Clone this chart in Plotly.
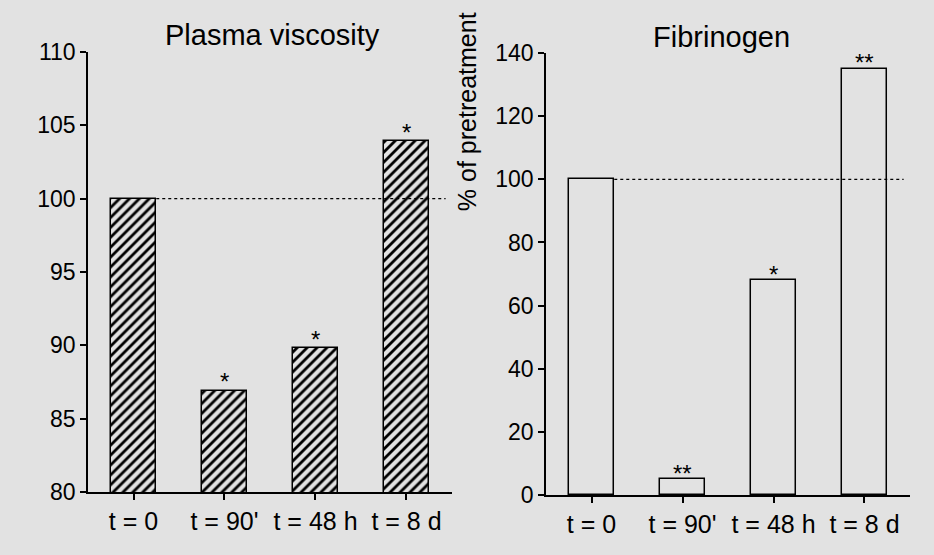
import plotly.graph_objects as go

categories = ["t = 0", "t = 90'", "t = 48 h", "t = 8 d"]
viscosity = [100, 86.9, 89.8, 103.9]
viscosity_sig = ["", "*", "*", "*"]
fibrinogen = [100, 5, 68, 135]
fibrinogen_sig = ["", "**", "*", "**"]
visc_ticks = [80, 85, 90, 95, 100, 105, 110]
fib_ticks = [0, 20, 40, 60, 80, 100, 120, 140]
baseline = 100

BG = "#e2e2e2"
FONT = "Liberation Sans, Arial, sans-serif"
x = list(range(len(categories)))

fig = go.Figure()
fig.add_trace(go.Bar(
    x=x, y=viscosity, width=0.5, xaxis="x", yaxis="y",
    marker=dict(color=BG, line=dict(color="black", width=1.5),
                pattern=dict(shape="/", fgcolor="black", bgcolor=BG, size=7,
                             solidity=0.4, fgopacity=1)),
    showlegend=False, hoverinfo="skip"))
fig.add_trace(go.Bar(
    x=x, y=fibrinogen, width=0.5, xaxis="x2", yaxis="y2",
    marker=dict(color="rgba(0,0,0,0)", line=dict(color="black", width=1.5)),
    showlegend=False, hoverinfo="skip"))

ann = []
for i, (v, s) in enumerate(zip(viscosity, viscosity_sig)):
    if s:
        ann.append(dict(x=i, y=v, xref="x", yref="y", text=s, showarrow=False,
                        yanchor="middle", yshift=9, font=dict(size=24, color="black", family=FONT)))
for i, (v, s) in enumerate(zip(fibrinogen, fibrinogen_sig)):
    if s:
        ann.append(dict(x=i, y=v, xref="x2", yref="y2", text=s, showarrow=False,
                        yanchor="middle", yshift=6, font=dict(size=24, color="black", family=FONT)))
ann.append(dict(x=0.225, y=1.038, xref="paper", yref="paper", text="Plasma viscosity",
                showarrow=False, xanchor="center", yanchor="middle",
                font=dict(size=29, color="black", family=FONT)))
ann.append(dict(x=0.771, y=1.034, xref="paper", yref="paper", text="Fibrinogen",
                showarrow=False, xanchor="center", yanchor="middle",
                font=dict(size=29, color="black", family=FONT)))
ann.append(dict(x=0.462, y=0.866, xref="paper", yref="paper", text="% of pretreatment",
                showarrow=False, textangle=-90, xanchor="center", yanchor="middle",
                font=dict(size=25, color="black", family=FONT)))

shapes = [
    dict(type="line", xref="x", yref="y", x0=0.25, x1=3.43, y0=baseline, y1=baseline,
         line=dict(color="black", width=1.2, dash="dot")),
    dict(type="line", xref="x2", yref="y2", x0=0.25, x1=3.43, y0=baseline, y1=baseline,
         line=dict(color="black", width=1.2, dash="dot")),
]

axis_common = dict(showline=True, linecolor="black", linewidth=1.5, ticks="outside",
                   ticklen=6, tickwidth=1.5, tickcolor="black", showgrid=False, zeroline=False,
                   tickfont=dict(size=23, color="black", family=FONT))
xtickfont = dict(size=25, color="black", family=FONT)

fig.update_layout(
    width=934, height=555,
    margin=dict(l=88, r=24, t=52, b=60),
    paper_bgcolor=BG, plot_bgcolor=BG,
    bargap=0,
    xaxis=dict(domain=[0, 0.4428], range=[-0.5, 3.5], tickvals=x, ticktext=categories,
               anchor="y", **{**axis_common, "tickfont": xtickfont}),
    yaxis=dict(domain=[0.0068, 1], range=[80, 110], tickvals=visc_ticks, anchor="x",
               **axis_common),
    xaxis2=dict(domain=[0.5572, 1], range=[-0.5, 3.5], tickvals=x, ticktext=categories,
                anchor="y2", **{**axis_common, "tickfont": xtickfont}),
    yaxis2=dict(domain=[0, 0.9977], range=[0, 140], tickvals=fib_ticks, anchor="x2",
                **axis_common),
    annotations=ann,
    shapes=shapes,
)

fig.write_html("out.html", config={"displayModeBar": False},
               post_script="document.body.style.margin='0';document.body.style.padding='0';"
                           "document.body.style.background='" + BG + "';")
